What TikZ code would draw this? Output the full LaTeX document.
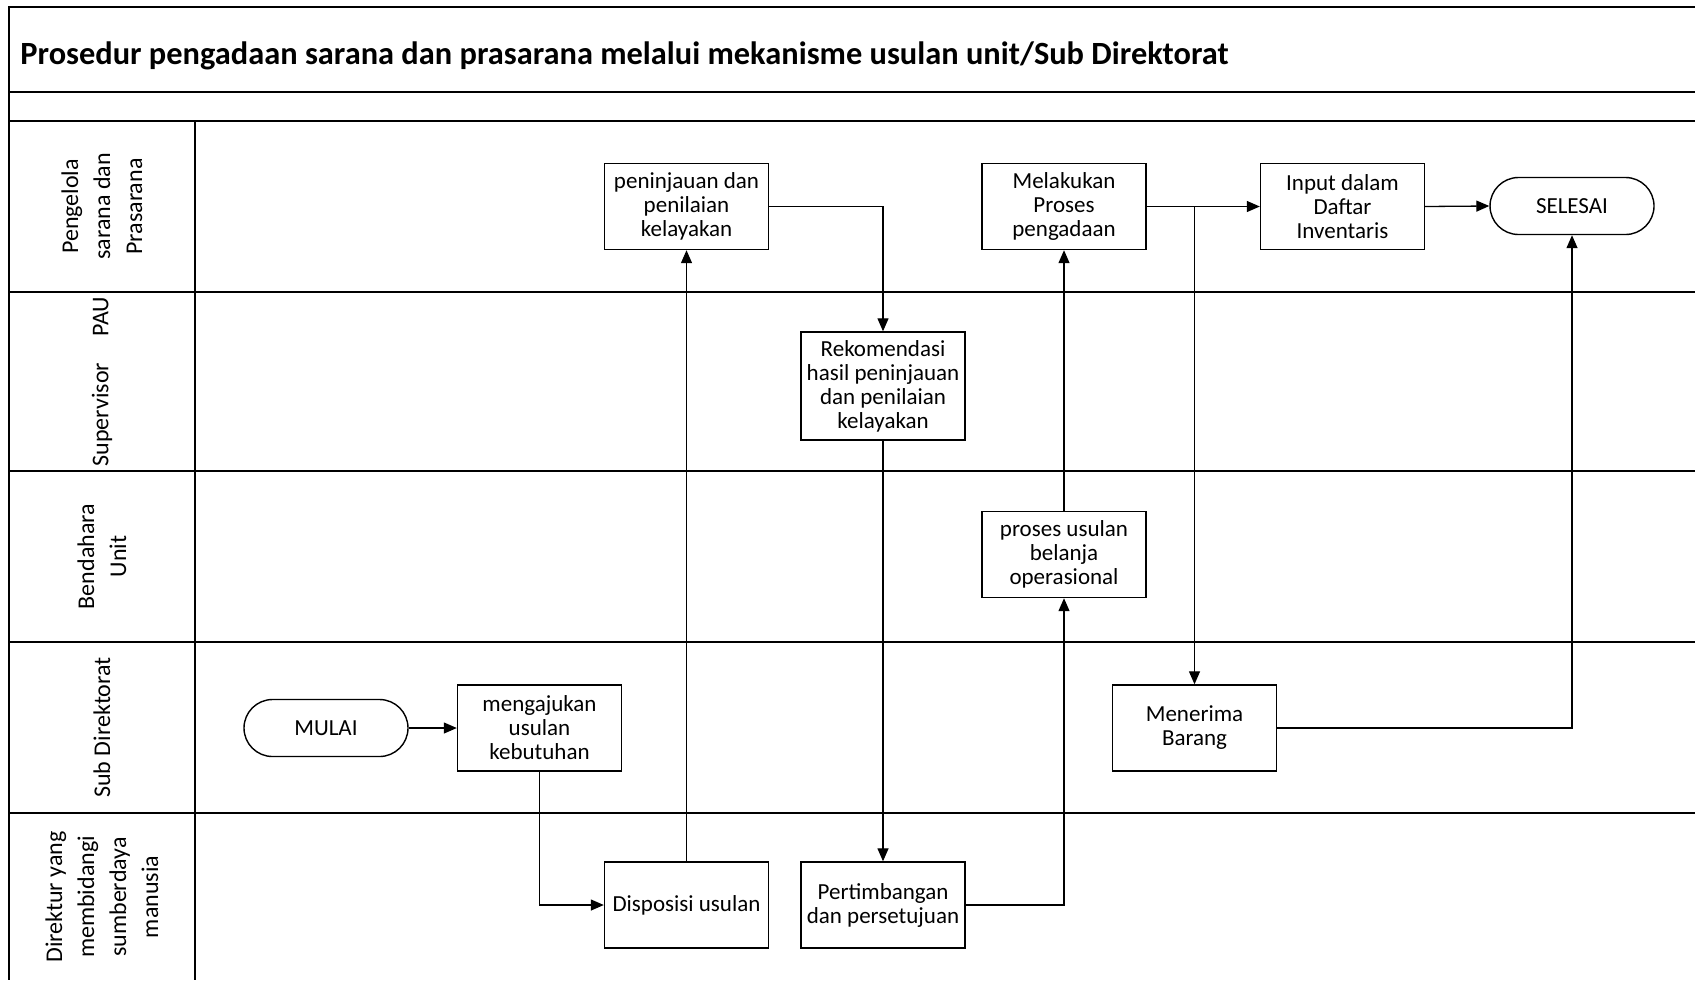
\documentclass[tikz,border=0pt]{standalone}
\usepackage{fontspec}
\setmainfont{Carlito}
\usetikzlibrary{arrows.meta}
\begin{document}
\begin{tikzpicture}[x=0.5pt,y=-0.5pt,
  box/.style={draw,line width=0.7pt,minimum width=82pt,minimum height=43pt,inner sep=1pt,align=center,font=\fontsize{11.5}{12}\selectfont},
  term/.style={draw,line width=0.7pt,rounded corners=14.25pt,minimum width=82pt,minimum height=28.5pt,inner sep=1pt,font=\fontsize{11.5}{12}\selectfont},
  lane/.style={rotate=90,align=center,inner sep=0pt,font=\fontsize{12}{16}\selectfont},
  frame/.style={line width=1pt},
  arr/.style={line width=0.65pt,-{Triangle[length=6.5pt,width=5.5pt]}},
  ln/.style={line width=0.65pt}]
\useasboundingbox (0,0) rectangle (1695,980);
% frame
\draw[frame] (1695,7) -- (9,7) -- (9,980);
\draw[frame] (9,92) -- (1695,92);
\draw[frame] (9,121) -- (1695,121);
\draw[frame] (9,292) -- (1695,292);
\draw[frame] (9,471) -- (1695,471);
\draw[frame] (9,642) -- (1695,642);
\draw[frame] (9,813) -- (1695,813);
\draw[frame] (195,121) -- (195,980);
% title
\node[anchor=west,inner sep=0pt,font=\fontsize{16.2}{19}\selectfont\bfseries] (title) at (20,56) {Prosedur pengadaan sarana dan prasarana melalui mekanisme usulan unit/Sub Direktorat};
% lane labels
\node[lane] (l1) at (102,206.5) {Pengelola\\sarana dan\\Prasarana};
\node[lane] (l2) at (102,381.5) {Supervisor\hspace{1.1em}PAU};
\node[lane] (l3) at (102,556.5) {Bendahara\\Unit};
\node[lane] (l4) at (102,727.5) {Sub Direktorat};
\node[lane] (l5) at (102,897) {Direktur yang\\membidangi\\sumberdaya\\manusia};
% nodes
\node[box] (pen) at (686.5,206.5) {peninjauan dan\\penilaian\\kelayakan};
\node[box] (mel) at (1064,206.5) {Melakukan\\Proses\\pengadaan};
\node[box] (inp) at (1342.5,206.5) {Input dalam\\Daftar\\Inventaris};
\node[term] (sel) at (1572,206) {SELESAI};
\node[box,minimum height=54pt] (rek) at (883,386) {Rekomendasi\\hasil peninjauan\\dan penilaian\\kelayakan};
\node[box] (pro) at (1064,554.5) {proses usulan\\belanja\\operasional};
\node[term] (mul) at (326,728) {MULAI};
\node[box] (men) at (539.5,728) {mengajukan\\usulan\\kebutuhan};
\node[box] (ter) at (1194.5,728) {Menerima\\Barang};
\node[box] (dis) at (686.5,905) {Disposisi usulan};
\node[box] (per) at (883,905) {Pertimbangan\\dan persetujuan};
% connectors
\draw[arr] (mul) -- (men);
\draw[arr] (men.south) |- (dis.west);
\draw[arr] (dis.north) -- (pen.south);
\draw[arr] (pen.east) -| (rek.north);
\draw[arr] (rek.south) -- (per.north);
\draw[arr] (per.east) -| (pro.south);
\draw[arr] (pro.north) -- (mel.south);
\draw[arr] (mel.east) -- (inp.west);
\coordinate (br) at (ter.north |- mel.east);
\draw[arr] (br) -- (ter.north);
\draw[arr] (inp.east) -- (sel.west);
\draw[arr] (ter.east) -| (sel.south);
\end{tikzpicture}
\end{document}
